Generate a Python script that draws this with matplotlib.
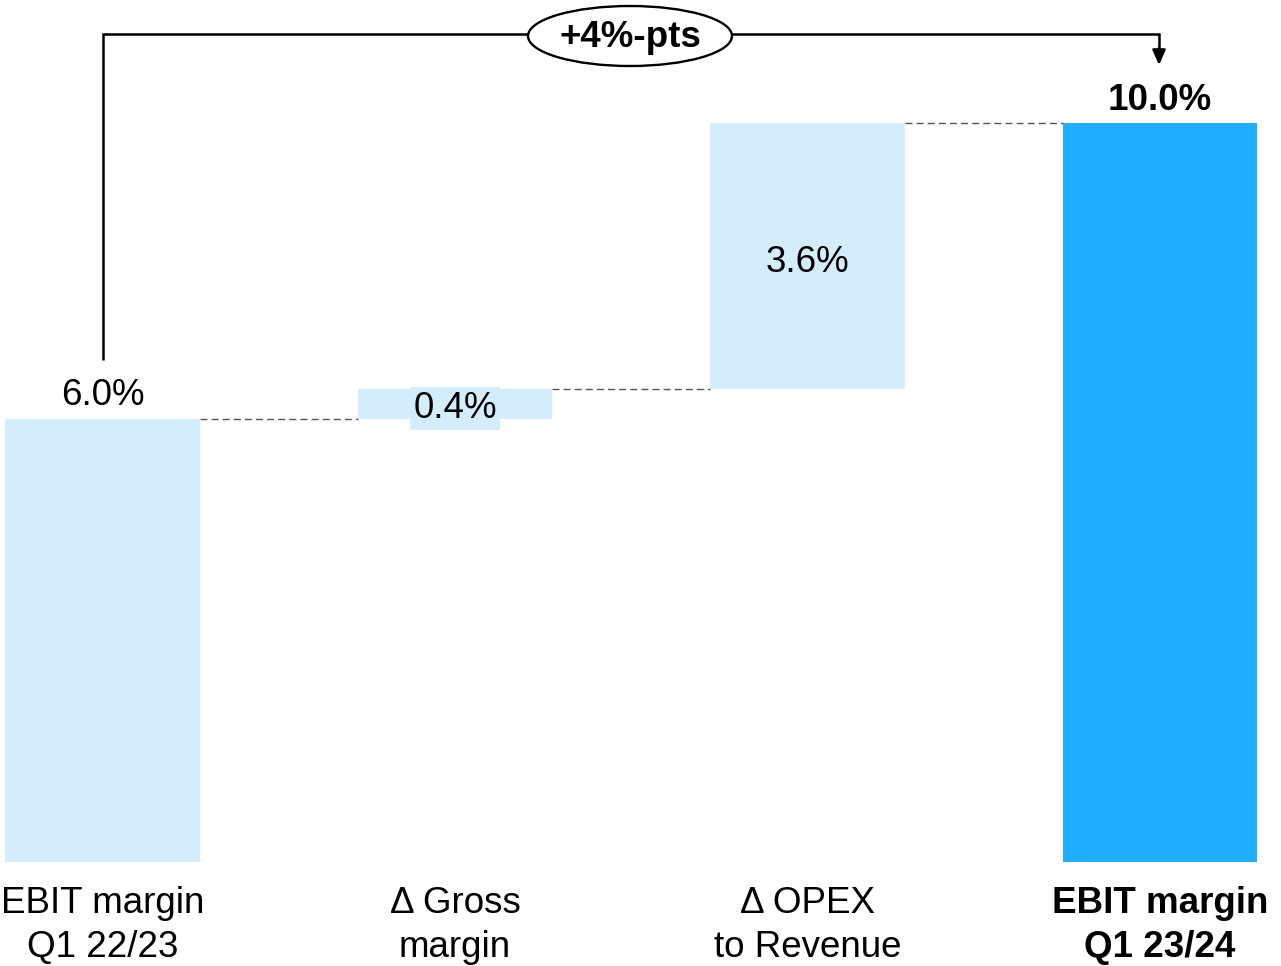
import matplotlib
matplotlib.use("Agg")
import matplotlib.pyplot as plt
from matplotlib.patches import Ellipse

plt.rcParams['font.family'] = ['Liberation Sans', 'DejaVu Sans']

categories = [["EBIT margin", "Q1 22/23"], ["Δ Gross", "margin"],
              ["Δ OPEX", "to Revenue"], ["EBIT margin", "Q1 23/24"]]
start_value = 6.0
deltas = [0.4, 3.6]
end_value = 10.0
value_labels = ["6.0%", "0.4%", "3.6%", "10.0%"]
change_label = "+4%-pts"

light_blue = "#D4EDFC"
strong_blue = "#22AEFF"

W, H = 1281, 966
X0, XS = 102.5, 352.5      # pixel position of first bar centre, spacing between bars
Y0, YS = 862, 73.9         # pixel row of zero, pixels per percentage point

fig = plt.figure(figsize=(W / 100, H / 100), dpi=100)
ax = fig.add_axes([0, 0, 1, 1])
ax.set_xlim(-X0 / XS, (W - X0) / XS)
ax.set_ylim(-(H - Y0) / YS, Y0 / YS)
ax.axis("off")


def ypx(py):
    """Convert a pixel row (from the top) to a data y value."""
    return (Y0 - py) / YS


def xpx(px):
    return (px - X0) / XS


width = 0.553
bottoms = [0, start_value, start_value + deltas[0], 0]
heights = [start_value, deltas[0], deltas[1], end_value]
colors = [light_blue, light_blue, light_blue, strong_blue]
x = list(range(len(categories)))
ax.bar(x, heights, bottom=bottoms, width=width, color=colors, linewidth=0)

# dashed connectors between consecutive bars
tops = [b + h for b, h in zip(bottoms, heights)]
for i in range(3):
    ax.plot([x[i] + width / 2, x[i + 1] - width / 2], [tops[i], tops[i]],
            color="#555555", lw=1.0, ls=(0, (5, 3)))

# value labels
fs = 26.5
ax.text(x[0], tops[0] + 14 / YS, value_labels[0], ha="center", va="baseline", fontsize=fs)
ax.text(x[1], ypx(418), value_labels[1], ha="center", va="baseline", fontsize=fs,
        bbox=dict(boxstyle="square,pad=0.1", fc=light_blue, ec="none"))
ax.text(x[2], ypx(272), value_labels[2], ha="center", va="baseline", fontsize=fs)
ax.text(x[3], tops[3] + 13 / YS, value_labels[3], ha="center", va="baseline",
        fontsize=fs, fontweight="bold")

# category labels, two lines each
for i, (l1, l2) in enumerate(categories):
    wt = "bold" if i == 3 else "normal"
    ax.text(x[i], ypx(913), l1, ha="center", va="baseline", fontsize=fs, fontweight=wt)
    ax.text(x[i], ypx(957), l2, ha="center", va="baseline", fontsize=fs, fontweight=wt)

# change bracket from first to last bar
y_br = ypx(34)
x_end = xpx(1159)
ax.plot([x[0], x[0], x_end, x_end], [ypx(360), y_br, y_br, ypx(50)], color="black", lw=1.8,
        solid_joinstyle="miter", solid_capstyle="butt")
ax.annotate("", xy=(x_end, ypx(65)), xytext=(x_end, ypx(48)),
            arrowprops=dict(arrowstyle="-|>,head_length=0.9,head_width=0.4", color="black",
                            lw=1.8, shrinkA=0, shrinkB=0))
ell_x = xpx(630)
ax.add_patch(Ellipse((ell_x, ypx(36)), 204 / XS, 60 / YS,
                     fc="white", ec="black", lw=1.7, zorder=3))
ax.text(ell_x, ypx(47), change_label, ha="center", va="baseline",
        fontsize=fs, fontweight="bold", zorder=4)

fig.savefig("out.png", dpi=100)
